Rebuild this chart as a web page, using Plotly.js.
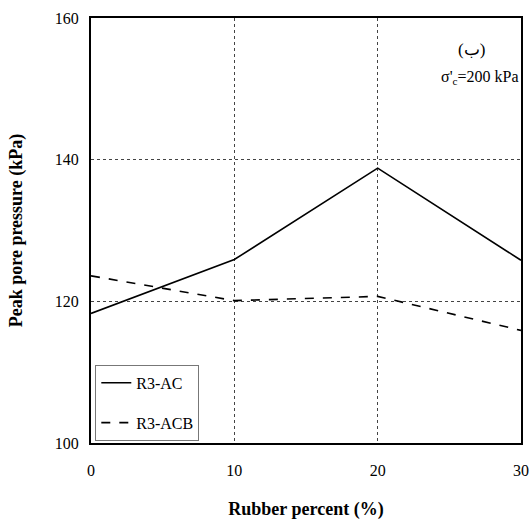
<!DOCTYPE html>
<html>
<head>
<meta charset="utf-8">
<script src="https://cdn.plot.ly/plotly-3.0.1.min.js"></script>
<style>html,body{margin:0;padding:0;background:#fff;}#chart{width:530px;height:520px;}</style>
</head>
<body>
<div id="chart"></div>
<script>
var rubberPercent = [0, 10, 20, 30];
var r3AC = [118.3, 125.9, 138.8, 125.8];
var r3ACB = [123.6, 120.1, 120.7, 115.9];
var seriesNames = ["R3-AC", "R3-ACB"];
var xTicks = [0, 10, 20, 30];
var yTicks = [100, 120, 140, 160];

var font = "Liberation Serif";

var traces = [
  {x: rubberPercent, y: r3AC, name: seriesNames[0], mode: "lines", legendgroup: "a",
   line: {color: "#000", width: 1.6, dash: "solid"}},
  {x: rubberPercent, y: r3ACB, name: seriesNames[1], mode: "lines", legendgroup: "b",
   line: {color: "#000", width: 1.6, dash: "dash"}}
];

var layout = {
  width: 530, height: 520,
  margin: {l: 91, r: 9, t: 18, b: 77},
  paper_bgcolor: "#fff", plot_bgcolor: "#fff",
  font: {family: font, size: 15, color: "#000"},
  showlegend: true,
  legend: {
    x: 0.01, y: 0.005, xanchor: "left", yanchor: "bottom",
    bgcolor: "#fff", bordercolor: "#777", borderwidth: 1,
    font: {family: font, size: 16, color: "#000"},
    traceorder: "grouped", tracegroupgap: 16
  },
  xaxis: {
    range: [0, 30], tickvals: xTicks, ticktext: xTicks.map(String),
    showgrid: true, gridcolor: "#444", griddash: "dot", gridwidth: 1,
    zeroline: false, showline: true, mirror: true, linecolor: "#000", linewidth: 2,
    ticks: "", ticklen: 0, tickfont: {family: font, size: 16}, ticklabelstandoff: 12,
    title: {text: "<b>Rubber percent (%)</b>", font: {family: font, size: 18}, standoff: 27}
  },
  yaxis: {
    range: [100, 160], tickvals: yTicks, ticktext: yTicks.map(String),
    showgrid: true, gridcolor: "#444", griddash: "dot", gridwidth: 1,
    zeroline: false, showline: true, mirror: true, linecolor: "#000", linewidth: 2,
    ticks: "", ticklen: 0, tickfont: {family: font, size: 16}, ticklabelstandoff: 7,
    title: {text: "<b>Peak pore pressure (kPa)</b>", font: {family: font, size: 18}, standoff: 27}
  },
  annotations: [
    {xref: "paper", yref: "paper", x: 0.886, y: 0.925, xanchor: "center", yanchor: "middle",
     text: "(ب)", showarrow: false, font: {family: font, size: 17}},
    {xref: "paper", yref: "paper", x: 0.905, y: 0.861, xanchor: "center", yanchor: "middle",
     text: "σ'<sub>c</sub>=200 kPa", showarrow: false, font: {family: font, size: 16}}
  ]
};

Plotly.newPlot("chart", traces, layout, {displayModeBar: false, staticPlot: true});
</script>
</body>
</html>
